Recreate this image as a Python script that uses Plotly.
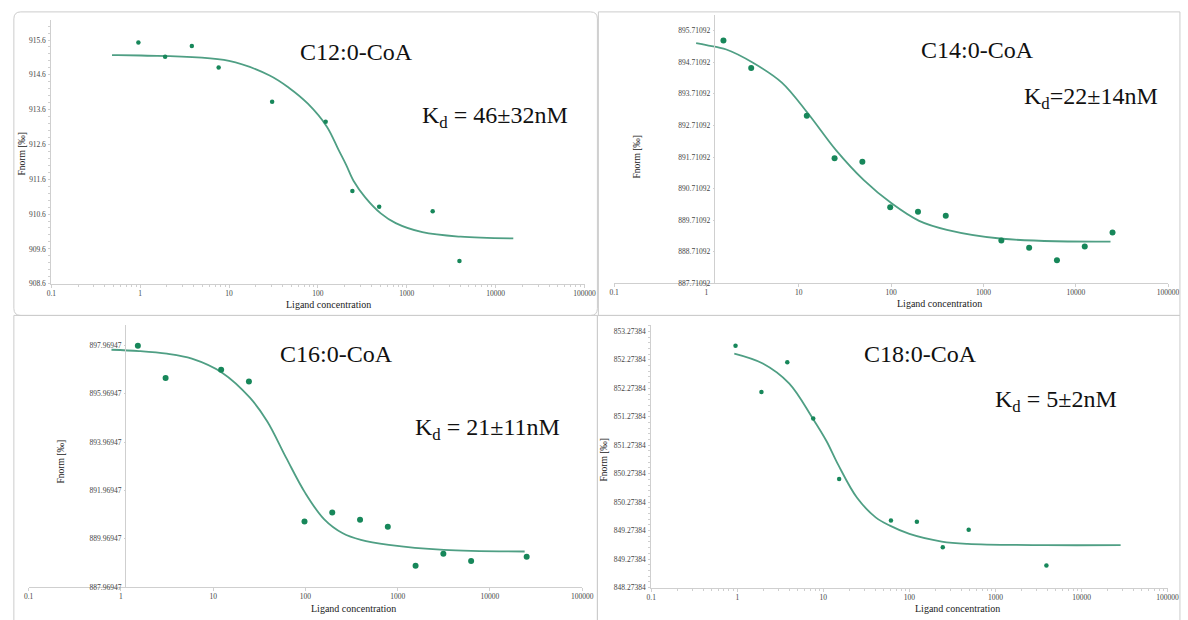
import plotly.graph_objects as go

# ---------------- data ----------------
c12_conc = [0.954, 1.907, 3.81, 7.63, 30.5, 122.1, 244.1, 488.3, 1953.1, 3906.25]
c12_fnorm = [915.53, 915.12, 915.43, 914.81, 913.83, 913.25, 911.26, 910.81, 910.68, 909.25]
c12_fit_x = [0.482, 1.02, 10.0, 28.6, 47, 77, 126, 170, 207, 252, 340, 509, 750, 1496, 4030, 15770]
c12_fit_y = [915.165, 915.155, 915.0, 914.58, 914.23, 913.77, 913.11, 912.45, 912.02, 911.55,
             911.08, 910.62, 910.34, 910.08, 909.95, 909.90]

c14_conc = [1.526, 3.05, 12.2, 24.4, 48.8, 97.7, 195.3, 390.6, 1562.5, 3125, 6250, 12500, 25000]
c14_fnorm = [895.40, 894.53, 893.02, 891.67, 891.56, 890.12, 889.98, 889.85, 889.07, 888.84,
             888.44, 888.88, 889.32]
c14_fit_x = [0.773, 1.0, 1.64, 3.19, 6.55, 12.7, 25.4, 50.6, 101, 201, 402, 1600, 23770]
c14_fit_y = [895.313, 895.250, 895.114, 894.695, 894.067, 893.072, 891.920, 890.978, 890.245,
             889.690, 889.407, 889.124, 889.030]

c16_conc = [1.526, 3.05, 12.2, 24.4, 97.7, 195.3, 390.6, 781.25, 1562.5, 3125, 6250, 25000]
c16_fnorm = [897.96, 896.62, 896.96, 896.48, 890.69, 891.06, 890.76, 890.47, 888.86, 889.35,
             889.05, 889.23]
c16_fit_x = [0.79, 1.57, 3.15, 5.87, 12.6, 25.0, 38.6, 61.9, 99, 159, 254, 399, 801, 3170, 23770]
c16_fit_y = [897.791, 897.736, 897.627, 897.422, 896.834, 895.808, 894.823, 893.318, 891.881,
             890.787, 890.199, 889.925, 889.720, 889.515, 889.447]

c18_conc = [0.954, 1.907, 3.81, 7.63, 15.26, 61.0, 122.1, 244.1, 488.3, 3906.25]
c18_fnorm = [852.52, 851.71, 852.23, 851.245, 850.18, 849.45, 849.43, 848.98, 849.29, 848.66]
c18_fit_x = [0.923, 1.98, 4.0, 7.4, 10.9, 14.8, 24.5, 40.5, 59.3, 100, 237.5, 475, 3810, 28440]
c18_fit_y = [852.384, 852.210, 851.861, 851.262, 850.844, 850.437, 849.855, 849.507, 849.361,
             849.216, 849.082, 849.041, 849.018, 849.018]

x_tickvals = [0.1, 1, 10, 100, 1000, 10000, 100000]
x_ticktext = ["0.1", "1", "10", "100", "1000", "10000", "100000"]

c12_yticks = [908.6, 909.6, 910.6, 911.6, 912.6, 913.6, 914.6, 915.6]
c12_ytext = ["908.6", "909.6", "910.6", "911.6", "912.6", "913.6", "914.6", "915.6"]
c14_yticks = [887.71092, 888.71092, 889.71092, 890.71092, 891.71092, 892.71092, 893.71092,
              894.71092, 895.71092]
c14_ytext = ["887.71092", "888.71092", "889.71092", "890.71092", "891.71092", "892.71092",
             "893.71092", "894.71092", "895.71092"]
c16_yticks = [887.96947, 889.96947, 891.96947, 893.96947, 895.96947, 897.96947]
c16_ytext = ["887.96947", "889.96947", "891.96947", "893.96947", "895.96947", "897.96947"]
c18_yticks = [848.27384, 848.77384, 849.27384, 849.77384, 850.27384, 850.77384, 851.27384,
              851.77384, 852.27384, 852.77384]
c18_ytext = ["848.27384", "849.27384", "849.27384", "850.27384", "850.27384", "851.27384",
             "851.27384", "852.27384", "852.27384", "853.27384"]

titles = ["C12:0-CoA", "C14:0-CoA", "C16:0-CoA", "C18:0-CoA"]
kd_texts = ["K<sub>d</sub> = 46±32nM", "K<sub>d</sub>=22±14nM", "K<sub>d</sub> = 21±11nM",
            "K<sub>d</sub> = 5±2nM"]

# ---------------- styling ----------------
W, H = 1188, 620
def fx(p):
    return p / W
def fy(p):
    return 1 - p / H

MARKER = "#17875a"
LINE = "#4f9f84"
AXC = "#cfcfcf"
SERIF = "Liberation Serif"
TICKFONT = dict(family=SERIF, size=7.5, color="#444")

fig = go.Figure()

panels = [
    dict(cx=c12_conc, cy=c12_fnorm, fx_=c12_fit_x, fy_=c12_fit_y, ms=4.5, ax="x", ay="y"),
    dict(cx=c14_conc, cy=c14_fnorm, fx_=c14_fit_x, fy_=c14_fit_y, ms=6, ax="x2", ay="y2"),
    dict(cx=c16_conc, cy=c16_fnorm, fx_=c16_fit_x, fy_=c16_fit_y, ms=6, ax="x3", ay="y3"),
    dict(cx=c18_conc, cy=c18_fnorm, fx_=c18_fit_x, fy_=c18_fit_y, ms=4.5, ax="x4", ay="y4"),
]
for p in panels:
    fig.add_trace(go.Scatter(x=p["fx_"], y=p["fy_"], mode="lines", line=dict(color=LINE, width=1.8, shape="spline"),
                             xaxis=p["ax"], yaxis=p["ay"], showlegend=False, hoverinfo="skip"))
    fig.add_trace(go.Scatter(x=p["cx"], y=p["cy"], mode="markers", marker=dict(color=MARKER, size=p["ms"]),
                             xaxis=p["ax"], yaxis=p["ay"], showlegend=False))

def xaxis(dom, anchor, minor=False):
    d = dict(type="log", domain=dom, range=[-1, 5], anchor=anchor, tickmode="array",
             tickvals=x_tickvals, ticktext=x_ticktext, showgrid=False, zeroline=False,
             showline=True, linecolor=AXC, linewidth=1, ticks="outside", ticklen=3, tickcolor=AXC,
             tickfont=TICKFONT, ticklabelstandoff=-1)
    if minor:
        d["minor"] = dict(ticks="outside", ticklen=2, tickcolor=AXC, dtick="D1", showgrid=False)
    return d

def yaxis(dom, rng, tv, tt, minor_dtick=None, **kw):
    d = dict(domain=dom, range=rng, tickmode="array", tickvals=tv, ticktext=tt, showgrid=False,
             zeroline=False, showline=True, linecolor=AXC, linewidth=1, ticks="outside", ticklen=2,
             tickcolor=AXC, tickfont=TICKFONT, ticklabelstandoff=1)
    if minor_dtick:
        d["minor"] = dict(ticks="outside", ticklen=2, tickcolor=AXC, dtick=minor_dtick, showgrid=False,
                          tick0=rng[0])
    d.update(kw)
    return d

fig.update_layout(
    width=W, height=H, autosize=False, margin=dict(l=0, r=0, t=0, b=0),
    paper_bgcolor="white", plot_bgcolor="white",
    xaxis=xaxis([fx(47), fx(588)], "y", minor=True),
    yaxis=yaxis([fy(286), fy(20)], [908.6, 916.18], c12_yticks, c12_ytext, minor_dtick=0.2,
                anchor="x"),
    xaxis2=xaxis([fx(618), fx(1180)], "y2"),
    yaxis2=yaxis([fy(285.7), fy(15)], [887.71092, 896.21], c14_yticks, c14_ytext,
                 anchor="free", position=fx(719), ticklen=1),
    xaxis3=xaxis([fx(24), fx(585.6)], "y3"),
    yaxis3=yaxis([fy(592), fy(328)], [887.96947, 898.80], c16_yticks, c16_ytext,
                 anchor="free", position=fx(121.7), ticklen=1),
    xaxis4=xaxis([fx(655.6), fx(1179.5)], "y4", minor=True),
    yaxis4=yaxis([fy(592.3), fy(328)], [848.27384, 852.88], c18_yticks, c18_ytext, minor_dtick=0.1,
                 anchor="x4"),
)

# panel frames
def rounded(x0, y0, x1, y1, r):
    X0, X1 = fx(x0), fx(x1)
    Y0, Y1 = fy(y1), fy(y0)
    rx, ry = r / W, r / H
    return (f"M {X0+rx},{Y1} L {X1-rx},{Y1} Q {X1},{Y1} {X1},{Y1-ry} L {X1},{Y0+ry} "
            f"Q {X1},{Y0} {X1-rx},{Y0} L {X0+rx},{Y0} Q {X0},{Y0} {X0},{Y0+ry} "
            f"L {X0},{Y1-ry} Q {X0},{Y1} {X0+rx},{Y1} Z")

frame_line = dict(color="#cccccc", width=1)
shapes = [
    dict(type="path", xref="paper", yref="paper", path=rounded(9, 12, 601, 318, 7), line=frame_line),
    dict(type="rect", xref="paper", yref="paper", x0=fx(602), x1=fx(1192), y0=fy(318), y1=fy(12), line=frame_line),
    dict(type="rect", xref="paper", yref="paper", x0=fx(9), x1=fx(601), y0=fy(628), y1=fy(318), line=frame_line),
    dict(type="rect", xref="paper", yref="paper", x0=fx(601), x1=fx(1192), y0=fy(628), y1=fy(318), line=frame_line),
]
fig.update_layout(shapes=shapes)

ann = []
title_pos = [(357, 52), (987, 50), (336, 357), (929, 357)]
kd_pos = [(497, 118), (1102, 99), (489, 432), (1066, 404)]
ytitle_pos = [(17, 155), (641, 158), (57, 465), (608, 463)]
xtitle_pos = [(328, 307), (948, 306), (354, 613), (966, 613)]
for i in range(4):
    ann.append(dict(text=titles[i], x=fx(title_pos[i][0]), y=fy(title_pos[i][1]), xref="paper", yref="paper",
                    showarrow=False, font=dict(family=SERIF, size=24, color="#111"), xanchor="center", yanchor="middle"))
    ann.append(dict(text=kd_texts[i], x=fx(kd_pos[i][0]), y=fy(kd_pos[i][1]), xref="paper", yref="paper",
                    showarrow=False, font=dict(family=SERIF, size=24, color="#111"), xanchor="center", yanchor="middle"))
    ann.append(dict(text="Fnorm [‰]", x=fx(ytitle_pos[i][0]), y=fy(ytitle_pos[i][1]), xref="paper", yref="paper",
                    showarrow=False, textangle=-90, font=dict(family=SERIF, size=9.5, color="#222"),
                    xanchor="center", yanchor="middle"))
    ann.append(dict(text="Ligand concentration", x=fx(xtitle_pos[i][0]), y=fy(xtitle_pos[i][1]), xref="paper",
                    yref="paper", showarrow=False, font=dict(family=SERIF, size=10, color="#222"),
                    xanchor="center", yanchor="middle"))
fig.update_layout(annotations=ann)

fig.write_html("out.html", config={"displayModeBar": False},
               post_script="document.body.style.margin='0';document.body.style.overflow='hidden';")
